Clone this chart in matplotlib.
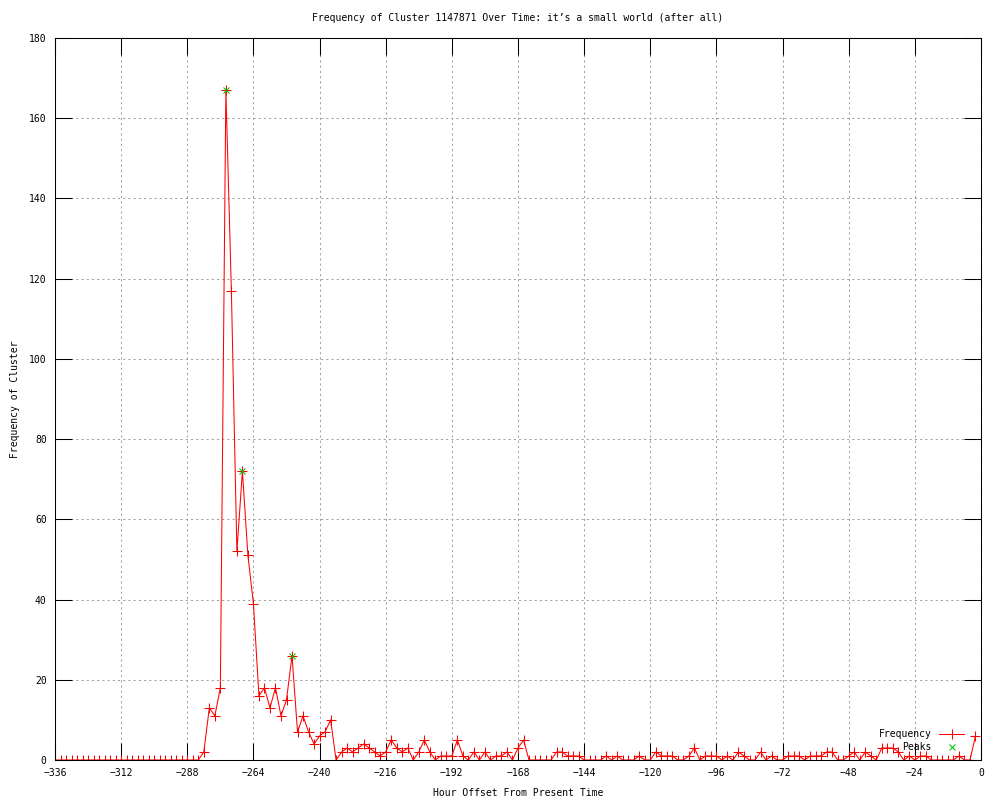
"""Frequency of cluster 1147871 over time, gnuplot-like look."""

import matplotlib
matplotlib.use("Agg")
import matplotlib.pyplot as plt

# hour offsets, one sample every 2 hours from -336 to -2
hours = list(range(-336, 0, 2))

# frequency, one row per 24 hours (12 samples)
freq = [
    0, 0, 0, 0, 0, 0, 0, 0, 0, 0, 0, 0,            # -336 .. -314
    0, 0, 0, 0, 0, 0, 0, 0, 0, 0, 0, 0,            # -312 .. -290
    0, 0, 0, 2, 13, 11, 18, 167, 117, 52, 72, 51,  # -288 .. -266
    39, 16, 18, 13, 18, 11, 15, 26, 7, 11, 7, 4,   # -264 .. -242
    6, 7, 10, 0, 2, 3, 2, 3, 4, 3, 2, 1,           # -240 .. -218
    2, 5, 3, 2, 3, 0, 2, 5, 2, 0, 1, 1,            # -216 .. -194
    1, 5, 1, 0, 2, 0, 2, 0, 1, 1, 2, 0,            # -192 .. -170
    3, 5, 0, 0, 0, 0, 0, 2, 2, 1, 1, 1,            # -168 .. -146
    0, 0, 0, 0, 1, 0, 1, 0, 0, 0, 1, 0,            # -144 .. -122
    0, 2, 1, 1, 1, 0, 0, 1, 3, 0, 1, 1,            # -120 .. -98
    1, 0, 1, 0, 2, 1, 0, 0, 2, 0, 1, 0,            # -96 .. -74
    0, 1, 1, 1, 0, 1, 1, 1, 2, 2, 0, 0,            # -72 .. -50
    1, 2, 0, 2, 1, 0, 3, 3, 3, 2, 0, 1,            # -48 .. -26
    0, 1, 1, 0, 0, 0, 0, 0, 1, 0, 0, 6,            # -24 .. -2
]

peak_hours = [-274, -268, -250]
peak_values = [167, 72, 26]

x_ticks = list(range(-336, 1, 24))
y_ticks = list(range(0, 181, 20))

title = "Frequency of Cluster 1147871 Over Time: it\u2019s a small world (after all)"

plt.rcParams["font.family"] = ["DejaVu Sans Mono"]
plt.rcParams["font.size"] = 7

fig = plt.figure(figsize=(10, 8), dpi=100)
ax = fig.add_axes([55 / 1000, 40 / 800, 926 / 1000, 722 / 800])

ax.plot(hours, freq, color="#ff0000", linewidth=0.75, marker="+",
        markersize=6.5, markeredgewidth=0.75, label="Frequency")
ax.plot(peak_hours, peak_values, linestyle="none", color="#00c000",
        marker="x", markersize=5, markeredgewidth=0.75, label="Peaks")

ax.set_xlim(-336, 0)
ax.set_ylim(0, 180)
ax.set_xticks(x_ticks)
ax.set_yticks(y_ticks)
ax.tick_params(direction="in", length=12, width=0.75, top=True, right=True,
               labelsize=7, pad=6, color="black")
ax.grid(True, color="#a0a0a0", linestyle=(0, (2, 3)), linewidth=0.75)
for sp in ax.spines.values():
    sp.set_linewidth(0.75)

ax.set_xlabel("Hour Offset From Present Time", fontsize=7)
ax.set_ylabel("Frequency of Cluster", fontsize=7)
ax.xaxis.set_label_coords(0.5, -0.039)
ax.yaxis.set_label_coords(-0.038, 0.5)

fig.text(518 / 1000, 1 - 18 / 800, title, ha="center", va="center", fontsize=7)

ax.legend(loc="lower right", bbox_to_anchor=(0.982, 0.011), frameon=False,
          markerfirst=False, numpoints=1, handlelength=2.6, handletextpad=0.8,
          borderaxespad=0, borderpad=0, labelspacing=0.3, fontsize=7)

fig.savefig("out.png", dpi=100)
